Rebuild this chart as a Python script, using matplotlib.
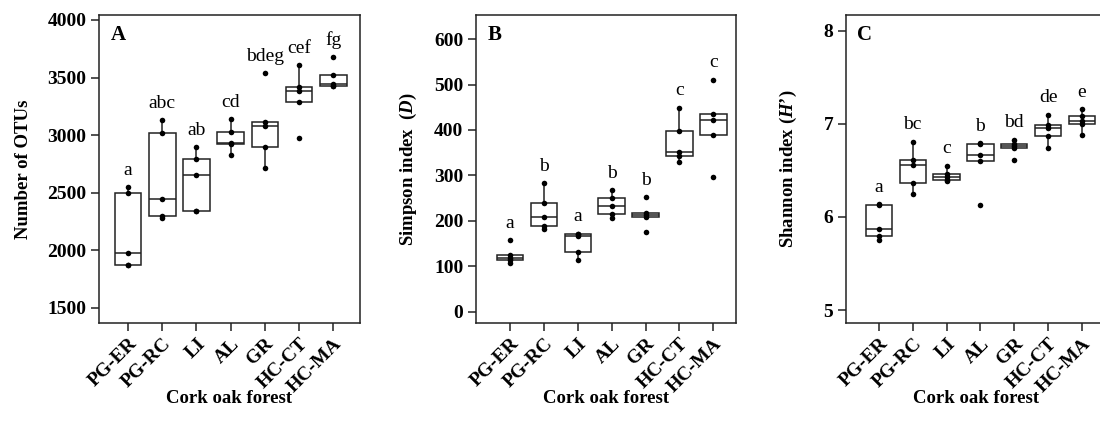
import numpy as np
import matplotlib
matplotlib.use("Agg")
import matplotlib.pyplot as plt

# ── Data ─────────────────────────────────────────────────────────────────────
sites = ["PG-ER", "PG-RC", "LI", "AL", "GR", "HC-CT", "HC-MA"]

otus = [
    [1870, 1870, 1980, 2500, 2550],
    [2280, 2298, 2445, 3015, 3128],
    [2340, 2342, 2652, 2794, 2895],
    [2828, 2925, 2935, 3025, 3140],
    [2718, 2900, 3080, 3115, 3537],
    [2978, 3285, 3386, 3415, 3607],
    [3425, 3430, 3445, 3520, 3675],
]
otus_letters = ["a", "abc", "ab", "cd", "bdeg", "cef", "fg"]

simpson = [
    [107, 113, 119, 124, 158],
    [182, 188, 209, 240, 283],
    [115, 132, 166, 171, 172],
    [206, 215, 232, 250, 268],
    [176, 209, 212, 218, 252],
    [330, 342, 352, 397, 449],
    [296, 390, 423, 436, 511],
]
simpson_letters = ["a", "b", "a", "b", "b", "c", "c"]

shannon = [
    [5.75, 5.80, 5.875, 6.13, 6.135],
    [6.25, 6.36, 6.56, 6.61, 6.81],
    [6.39, 6.40, 6.43, 6.465, 6.55],
    [6.13, 6.60, 6.66, 6.78, 6.79],
    [6.61, 6.745, 6.76, 6.785, 6.83],
    [6.74, 6.865, 6.96, 6.99, 7.10],
    [6.875, 6.995, 7.03, 7.08, 7.16],
]
shannon_letters = ["a", "bc", "c", "b", "bd", "de", "e"]

# ── Style ────────────────────────────────────────────────────────────────────
plt.rcParams["font.family"] = ["Liberation Serif", "DejaVu Serif"]
plt.rcParams["mathtext.fontset"] = "custom"
plt.rcParams["mathtext.rm"] = "Liberation Serif:bold"
plt.rcParams["mathtext.it"] = "Liberation Serif:italic:bold"
plt.rcParams["mathtext.bf"] = "Liberation Serif:bold"

EDGE = "#222222"
W, H = 1100, 437

fig = plt.figure(figsize=(W / 100, H / 100), dpi=100)


def px_axes(left, right, top, bottom):
    return [left / W, 1 - bottom / H, (right - left) / W, (bottom - top) / H]


panels = [
    dict(data=otus, letters=otus_letters, tag="A", ylabel="Number of OTUs",
         rect=px_axes(99, 360, 15, 322.7), xlim=(0.152, 7.78),
         ylim=(1372, 4043), yticks=[1500, 2000, 2500, 3000, 3500, 4000],
         ylab_x=-0.29),
    dict(data=simpson, letters=simpson_letters, tag="B",
         ylabel=r"Simpson index  ($D$)",
         rect=px_axes(475.7, 736, 15, 322.7), xlim=(-0.01, 7.67),
         ylim=(-24, 653), yticks=[0, 100, 200, 300, 400, 500, 600],
         ylab_x=-0.26),
    dict(data=shannon, letters=shannon_letters, tag="C",
         ylabel=r"Shannon index ($H$’)",
         rect=px_axes(845.7, 1105.5, 15, 322.7), xlim=(0.015, 7.7),
         ylim=(4.864, 8.169), yticks=[5, 6, 7, 8],
         ylab_x=-0.22),
]

positions = np.arange(1, len(sites) + 1)

for p in panels:
    ax = fig.add_axes(p["rect"])
    ax.boxplot(
        p["data"], positions=positions, widths=0.78, whis=1.5,
        showfliers=False, showcaps=False, patch_artist=True,
        boxprops=dict(facecolor="white", edgecolor=EDGE, linewidth=1.1),
        medianprops=dict(color=EDGE, linewidth=1.1),
        whiskerprops=dict(color=EDGE, linewidth=1.1),
    )
    for x, vals in zip(positions, p["data"]):
        ax.scatter(np.full(len(vals), x), vals, s=16, color="black",
                   zorder=3, linewidths=0)

    ax.set_xlim(*p["xlim"])
    ax.set_ylim(*p["ylim"])
    ax.set_yticks(p["yticks"])
    ax.set_xticks(positions)
    ax.set_xticklabels(sites, rotation=45, ha="right", va="top",
                       rotation_mode="anchor")

    # significance letters above each group
    span = p["ylim"][1] - p["ylim"][0]
    for x, vals, lab in zip(positions, p["data"], p["letters"]):
        ax.text(x, max(vals) + 0.055 * span, lab, ha="center", va="center",
                fontsize=14)

    ax.text(0.045, 0.935, p["tag"], transform=ax.transAxes, fontsize=15,
            fontweight="bold", ha="left", va="center")

    for s in ax.spines.values():
        s.set_color(EDGE)
        s.set_linewidth(1.1)
    ax.tick_params(axis="both", direction="out", length=5.5, width=1.1,
                   color=EDGE, labelsize=14, pad=3.5)
    for t in ax.get_xticklabels() + ax.get_yticklabels():
        t.set_fontweight("bold")

    ax.text(p["ylab_x"], 0.5, p["ylabel"], transform=ax.transAxes,
            rotation=90, ha="center", va="center", fontsize=13.5,
            fontweight="bold")
    ax.text(0.5, -0.245, "Cork oak forest", transform=ax.transAxes,
            ha="center", va="center", fontsize=13.5, fontweight="bold")

fig.savefig("out.png", dpi=100)
